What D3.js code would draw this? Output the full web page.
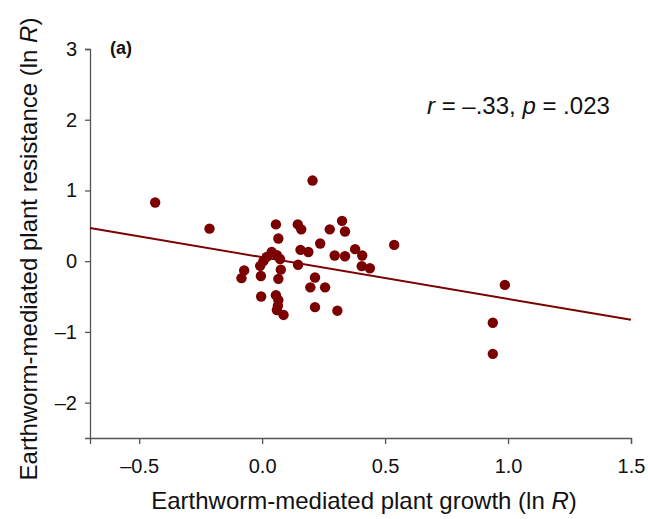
<!DOCTYPE html>
<html>
<head>
<meta charset="utf-8">
<script src="https://cdn.jsdelivr.net/npm/d3@7"></script>
<style>
body{margin:0;background:#fff;}
text{font-family:"Liberation Sans",Arial,sans-serif;}
</style>
</head>
<body>
<div id="chart"></div>
<script>
// data
let growth=[-0.435,-0.214,0.205,0.056,0.145,0.159,0.066,0.325,0.337,0.275,0.236,0.537,0.156,0.188,0.295,0.337,0.378,0.407,0.405,0.438,0.146,0.215,0.196,0.256,0.215,0.306,-0.073,-0.084,-0.005,-0.004,0.066,0.076,0.056,0.066,0.064,0.06,0.087,0.039,0.06,0.019,0.073,0.005,-0.008,0.987,0.938,0.938]
let resistance=[0.83,0.46,1.14,0.52,0.52,0.45,0.32,0.57,0.42,0.45,0.25,0.23,0.16,0.13,0.08,0.07,0.17,0.08,-0.07,-0.10,-0.05,-0.23,-0.37,-0.37,-0.65,-0.70,-0.13,-0.24,-0.21,-0.50,-0.25,-0.12,-0.48,-0.55,-0.63,-0.69,-0.76,0.13,0.085,0.06,0.03,0.0,-0.066,-0.335,-0.87,-1.31]
let xTicks=[-0.5,0,0.5,1.0,1.5]
let yTicks=[-2,-1,0,1,2,3]
let fit={intercept:0.056,slope:-0.59}

let svgWidth=648
let svgHeight=519
let margin={top:49,right:17,bottom:81,left:90}
let chartwidth=svgWidth-margin.left-margin.right
let chartheight=svgHeight-margin.top-margin.bottom
let red="#7b0000"

let svg=d3.select("#chart")
.append("svg")
.attr("width",svgWidth)
.attr("height",svgHeight)
let chartGroup=svg.append("g")
.attr("transform",`translate(${margin.left},${margin.top})`)

let x=d3.scaleLinear().domain([-0.7,1.5]).range([0,chartwidth])
let y=d3.scaleLinear().domain([-2.5,3]).range([chartheight,0])

let fmtX=d=>d3.format(".1f")(d).replace("−","\u2013")
let fmtY=d=>d3.format("d")(d).replace("−","\u2013")

//axes
let bottomAxis=d3.axisBottom(x).tickValues(xTicks).tickFormat(fmtX).tickSizeOuter(0).tickSize(6).tickPadding(11)
let leftAxis=d3.axisLeft(y).tickValues(yTicks).tickFormat(fmtY).tickSizeOuter(0).tickSize(5).tickPadding(8)
let gx=chartGroup.append("g")
.attr("transform",`translate(0,${chartheight})`)
.call(bottomAxis)
let gy=chartGroup.append("g").call(leftAxis)
for(let g of [gx,gy]){
    g.select(".domain").attr("stroke","#555").attr("stroke-width",1.3)
    g.selectAll(".tick line").attr("stroke","#555").attr("stroke-width",1.3)
    g.selectAll(".tick text").attr("fill","#111").style("font-size","20px")
}
gx.selectAll(".tick text").attr("dy","0.9em")

//regression line
let x0=-0.7,x1=1.5
chartGroup.append("line")
.attr("x1",x(x0)).attr("y1",y(fit.intercept+fit.slope*x0))
.attr("x2",x(x1)).attr("y2",y(fit.intercept+fit.slope*x1))
.attr("stroke",red).attr("stroke-width",2)

//points
chartGroup.selectAll("circle")
.data(growth.map((g,i)=>({g:g,r:resistance[i]})))
.enter()
.append("circle")
.attr("cx",d=>x(d.g))
.attr("cy",d=>y(d.r))
.attr("r",5.2)
.attr("fill",red)

//labels
svg.append("text")
.attr("x",110).attr("y",54)
.style("font-size","18px").style("font-weight","bold")
.attr("fill","#111")
.text("(a)")

let ann=svg.append("text")
.attr("x",427).attr("y",114)
.style("font-size","24px").attr("fill","#111")
ann.append("tspan").style("font-style","italic").text("r")
ann.append("tspan").text(" = \u2013.33, ")
ann.append("tspan").style("font-style","italic").text("p")
ann.append("tspan").text(" = .023")

let xl=svg.append("text")
.attr("x",364).attr("y",509)
.attr("text-anchor","middle")
.style("font-size","24px").attr("fill","#111")
xl.append("tspan").text("Earthworm-mediated plant growth (ln ")
xl.append("tspan").style("font-style","italic").text("R")
xl.append("tspan").text(")")

let yl=svg.append("text")
.attr("transform",`translate(37,${249}) rotate(-90)`)
.attr("text-anchor","middle")
.style("font-size","24px").attr("fill","#111")
yl.append("tspan").text("Earthworm-mediated plant resistance (ln ")
yl.append("tspan").style("font-style","italic").text("R")
yl.append("tspan").text(")")
</script>
</body>
</html>
